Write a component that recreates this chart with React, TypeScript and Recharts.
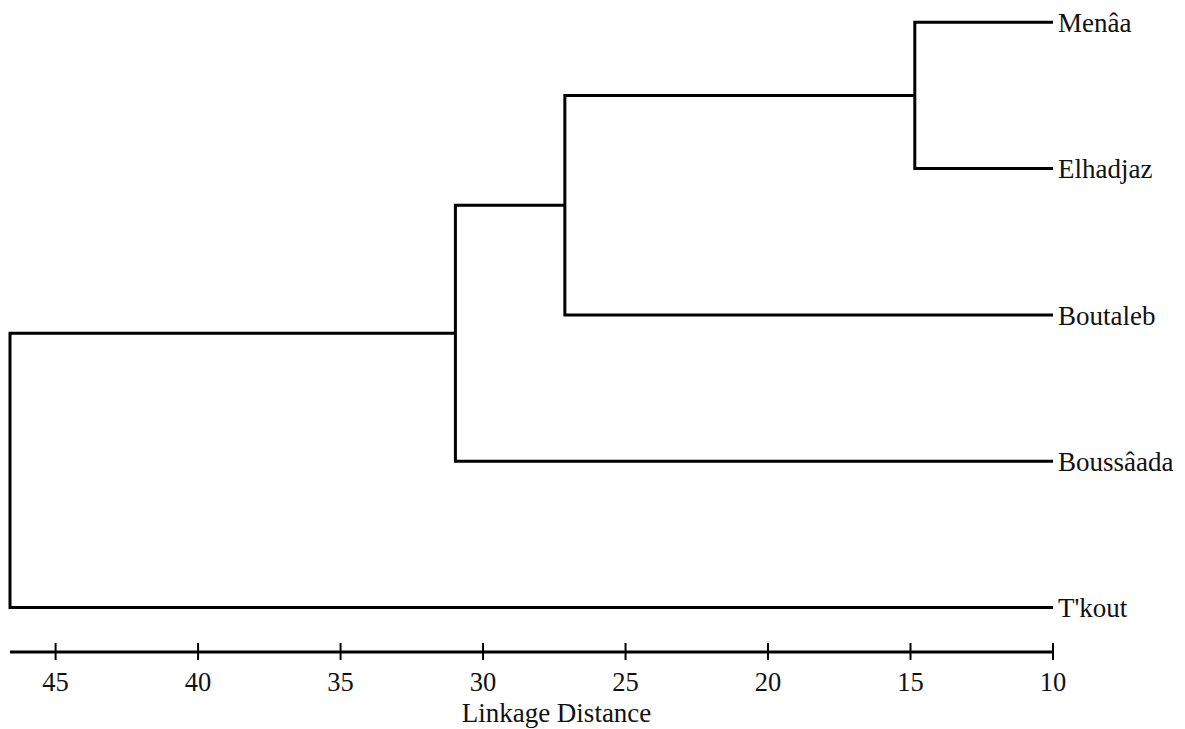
import React from "react"
import { LineChart, Line, XAxis, YAxis } from "recharts"

// leaves top to bottom, merges as (left cluster, right cluster, linkage distance)
// cluster ids: 0-4 are leaves, 5+ are merges in order
const leaves = ["Menâa", "Elhadjaz", "Boutaleb", "Boussâada", "T'kout"]
const mergeLeft = [0, 5, 6, 7]
const mergeRight = [1, 2, 3, 4]
const mergeHeights = [14.85, 27.13, 30.97, 46.6]
const distanceTicks = [45, 40, 35, 30, 25, 20, 15, 10]
const baseDistance = 10

const FONT = "Liberation Serif, Times New Roman, serif"

function buildLinks() {
  const nodes = leaves.map((_, i) => ({ h: baseDistance, pos: i }))
  return mergeHeights.map((h, k) => {
    const a = nodes[mergeLeft[k]]
    const b = nodes[mergeRight[k]]
    nodes.push({ h, pos: (a.pos + b.pos) / 2 })
    return [
      { x: a.h, y: a.pos },
      { x: h, y: a.pos },
      { x: h, y: b.pos },
      { x: b.h, y: b.pos },
    ]
  })
}

const links = buildLinks()

function DistanceTick({ x, y, payload }: any) {
  return (
    <g>
      <line x1={x} x2={x} y1={y - 9} y2={y + 8} stroke="#000" strokeWidth={2} />
      <text x={x} y={y + 39} textAnchor="middle" style={{ fontFamily: FONT, fontSize: 26.5 }} fill="#111">
        {payload.value}
      </text>
    </g>
  )
}

export default function App() {
  return (
    <div style={{ position: "absolute", left: 0, top: 0, background: "#fff" }}>
      <LineChart width={1185} height={729} margin={{ top: 15, right: 0, left: 10, bottom: 0 }}>
        <XAxis
          dataKey="x"
          type="number"
          domain={[baseDistance, 46.6]}
          reversed
          ticks={distanceTicks}
          interval={0}
          height={77}
          tickSize={0}
          tickMargin={0}
          axisLine={{ stroke: "#000", strokeWidth: 3 }}
          tickLine={false}
          tick={<DistanceTick />}
          label={{
            value: "Linkage Distance",
            position: "insideBottom",
            offset: 7,
            dx: 25,
            style: { fontFamily: FONT, fontSize: 27 },
            fill: "#111",
          }}
        />
        <YAxis
          dataKey="y"
          type="number"
          orientation="right"
          domain={[-0.05, 4.304]}
          reversed
          ticks={[0, 1, 2, 3, 4]}
          tickFormatter={(v: number) => leaves[v] ?? ""}
          width={132}
          axisLine={false}
          tickLine={false}
          tickSize={0}
          tickMargin={5}
          tick={{ style: { fontFamily: FONT, fontSize: 27 }, fill: "#111", textAnchor: "start" }}
        />
        {links.map((pts, i) => (
          <Line
            key={i}
            data={pts}
            dataKey="y"
            type="linear"
            stroke="#000"
            strokeWidth={3}
            dot={false}
            activeDot={false}
            isAnimationActive={false}
          />
        ))}
      </LineChart>
    </div>
  )
}
